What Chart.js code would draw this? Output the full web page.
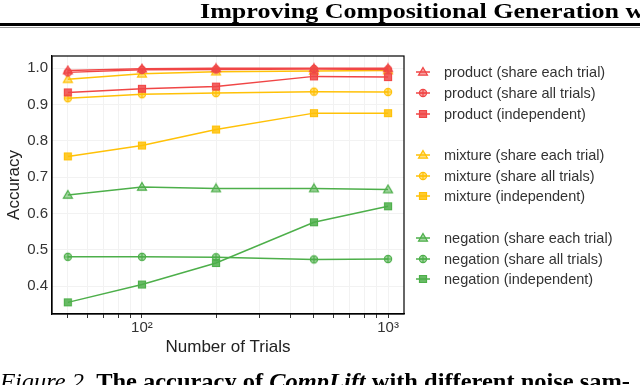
<!DOCTYPE html>
<html>
<head>
<meta charset="utf-8">
<script src="https://cdn.jsdelivr.net/npm/chart.js@4.4.1/dist/chart.umd.min.js"></script>
<style>
  html, body { margin: 0; padding: 0; background: #fff; }
  body { width: 640px; height: 385px; position: relative; overflow: hidden; }
  #chart { position: absolute; left: 0; top: 0; }
  .header {
    position: absolute; left: 200px; top: -1px; white-space: nowrap;
    font: bold 21px "Liberation Serif", "Times New Roman", serif; color: #000;
    transform: scaleX(1.24); transform-origin: left top;
  }
  .rule { position: absolute; left: 0; width: 640px; top: 23px; height: 3px; background: #000; }
  .rule2 { position: absolute; left: 0; width: 640px; top: 27px; height: 1px; background: #999; }
  .caption {
    position: absolute; left: 0; top: 368px; white-space: nowrap;
    font: 23.5px "Liberation Serif", "Times New Roman", serif; color: #000;
    transform: scaleX(1.04); transform-origin: left top;
  }
  .caption b { font-weight: bold; }
  #legend { position: absolute; left: 413px; top: 62px; font: 14.5px "Liberation Sans", Arial, sans-serif; color: #333; }
  #legend .row { height: 20.7px; display: flex; align-items: center; }
  #legend canvas { margin-right: 7px; }
</style>
</head>
<body>
<canvas id="chart" width="640" height="385"></canvas>
<div class="header">Improving Compositional Generation w</div>
<div class="rule"></div>
<div class="rule2"></div>
<div id="legend"></div>
<div class="caption"><i>Figure 2.</i> <b>The accuracy of <i>CompLift</i> with different noise sam-</b></div>
<script>
// data
const trials = [50, 100, 200, 500, 1000]

const productShareEach = [0.993, 0.998, 0.999, 0.999, 0.999]
const productShareAll = [0.988, 0.995, 0.996, 0.997, 0.996]
const productIndependent = [0.933, 0.943, 0.949, 0.977, 0.975]

const mixtureShareEach = [0.969, 0.984, 0.990, 0.992, 0.993]
const mixtureShareAll = [0.917, 0.928, 0.931, 0.935, 0.934]
const mixtureIndependent = [0.757, 0.787, 0.831, 0.876, 0.876]

const negationShareEach = [0.651, 0.673, 0.669, 0.669, 0.666]
const negationShareAll = [0.481, 0.481, 0.480, 0.474, 0.475]
const negationIndependent = [0.356, 0.405, 0.464, 0.576, 0.620]

const yTicks = [0.4, 0.5, 0.6, 0.7, 0.8, 0.9, 1.0]
const xTicks = [50, 60, 70, 80, 90, 100, 200, 300, 400, 500, 600, 700, 800, 900, 1000]

const RED = '#F04646'
const ORANGE = '#FFC107'
const GREEN = '#4DAF4A'

const fade = (hex, a) => {
  const n = parseInt(hex.slice(1), 16)
  return `rgba(${n >> 16}, ${(n >> 8) & 255}, ${n & 255}, ${a})`
}

// marker shapes (triangle / circle with plus / square)
const drawMarker = (ctx, shape, x, y, color) => {
  ctx.save()
  ctx.strokeStyle = color
  ctx.fillStyle = fade(color, 0.5)
  ctx.lineWidth = 1.2
  ctx.beginPath()
  if (shape === 'triangle') {
    ctx.moveTo(x, y - 4.5)
    ctx.lineTo(x + 4.5, y + 3.2)
    ctx.lineTo(x - 4.5, y + 3.2)
    ctx.closePath()
    ctx.fill()
    ctx.stroke()
  } else if (shape === 'circle') {
    ctx.arc(x, y, 3.6, 0, Math.PI * 2)
    ctx.fill()
    ctx.stroke()
    ctx.beginPath()
    ctx.moveTo(x - 3.6, y); ctx.lineTo(x + 3.6, y)
    ctx.moveTo(x, y - 3.6); ctx.lineTo(x, y + 3.6)
    ctx.stroke()
  } else {
    ctx.fillStyle = fade(color, 0.85)
    ctx.rect(x - 3.5, y - 3.5, 7, 7)
    ctx.fill()
    ctx.stroke()
  }
  ctx.restore()
}

const makeMarker = (shape, color) => {
  const c = document.createElement('canvas')
  c.width = 12
  c.height = 12
  drawMarker(c.getContext('2d'), shape, 6, 6, color)
  return c
}

const series = [
  { label: 'product (share each trial)', data: productShareEach, color: RED, shape: 'triangle' },
  { label: 'product (share all trials)', data: productShareAll, color: RED, shape: 'circle' },
  { label: 'product (independent)', data: productIndependent, color: RED, shape: 'square' },
  { label: 'mixture (share each trial)', data: mixtureShareEach, color: ORANGE, shape: 'triangle' },
  { label: 'mixture (share all trials)', data: mixtureShareAll, color: ORANGE, shape: 'circle' },
  { label: 'mixture (independent)', data: mixtureIndependent, color: ORANGE, shape: 'square' },
  { label: 'negation (share each trial)', data: negationShareEach, color: GREEN, shape: 'triangle' },
  { label: 'negation (share all trials)', data: negationShareAll, color: GREEN, shape: 'circle' },
  { label: 'negation (independent)', data: negationIndependent, color: GREEN, shape: 'square' }
]

const frame = {
  id: 'frame',
  afterDraw(chart) {
    const { ctx, chartArea: a } = chart
    ctx.save()
    ctx.strokeStyle = '#000'
    ctx.lineWidth = 1.2
    ctx.strokeRect(a.left, a.top, a.right - a.left, a.bottom - a.top)
    ctx.restore()
  }
}

Chart.defaults.font.family = '"Liberation Sans", Arial, sans-serif'

new Chart(document.getElementById('chart'), {
  type: 'line',
  data: {
    datasets: series.map(s => ({
      label: s.label,
      data: trials.map((t, i) => ({ x: t, y: s.data[i] })),
      borderColor: s.color,
      borderWidth: 1.5,
      pointStyle: makeMarker(s.shape, s.color),
      tension: 0
    }))
  },
  options: {
    responsive: false,
    animation: false,
    devicePixelRatio: 1,
    layout: { padding: { top: 56, right: 236, left: 0, bottom: 27 } },
    plugins: { legend: { display: false }, tooltip: { enabled: false } },
    scales: {
      x: {
        type: 'logarithmic',
        min: 43.1,
        max: 1161,
        afterBuildTicks: s => { s.ticks = xTicks.map(v => ({ value: v })) },
        afterFit: s => { s.height = 44 },
        ticks: {
          autoSkip: false,
          maxRotation: 0,
          padding: 1,
          color: '#333',
          font: { size: 15 },
          callback: v => (v === 100 ? '10²' : v === 1000 ? '10³' : '')
        },
        grid: { color: '#f2f2f2', tickColor: '#333', tickLength: 4 },
        border: { color: '#000', width: 1.2 },
        title: { display: true, text: 'Number of Trials', color: '#222', font: { size: 17 }, padding: 0 }
      },
      y: {
        min: 0.324,
        max: 1.033,
        afterBuildTicks: s => { s.ticks = yTicks.map(v => ({ value: v })) },
        afterFit: s => { s.width = 52 },
        ticks: {
          color: '#333',
          padding: 4,
          font: { size: 15 },
          callback: v => v.toFixed(1)
        },
        grid: { color: '#f2f2f2', drawTicks: false },
        border: { color: '#000', width: 1.2 },
        title: { display: true, text: 'Accuracy', color: '#222', font: { size: 17 }, padding: { top: 4, bottom: 0 } }
      }
    }
  },
  plugins: [frame]
})

// legend with a blank row between groups
const legend = document.getElementById('legend')
series.forEach((s, i) => {
  if (i > 0 && i % 3 === 0) {
    const gap = document.createElement('div')
    gap.className = 'row'
    legend.appendChild(gap)
  }
  const row = document.createElement('div')
  row.className = 'row'
  const c = document.createElement('canvas')
  c.width = 24
  c.height = 12
  const ctx = c.getContext('2d')
  ctx.strokeStyle = s.color
  ctx.lineWidth = 1.5
  ctx.beginPath()
  ctx.moveTo(3, 6)
  ctx.lineTo(17, 6)
  ctx.stroke()
  drawMarker(ctx, s.shape, 10, 6, s.color)
  row.appendChild(c)
  const t = document.createElement('span')
  t.textContent = s.label
  row.appendChild(t)
  legend.appendChild(row)
})
</script>
</body>
</html>
